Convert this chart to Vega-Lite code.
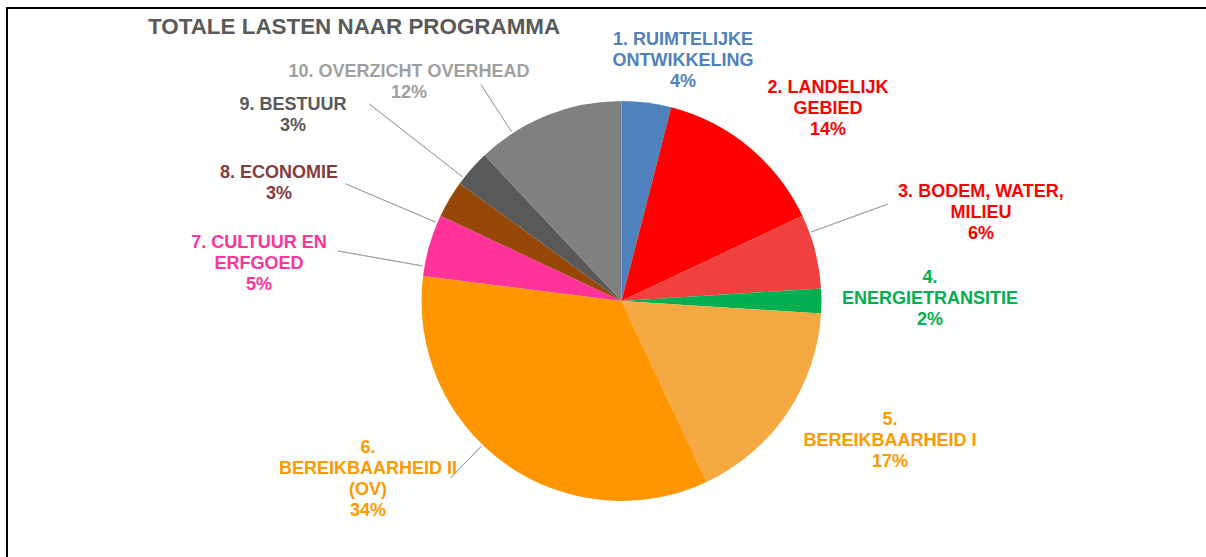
{
  "$schema": "https://vega.github.io/schema/vega-lite/v6.json",
  "width": 1229,
  "height": 586,
  "autosize": {"type": "none"},
  "padding": {"left": 7, "top": 8, "right": 0, "bottom": 0},
  "background": "white",
  "view": {"stroke": "#000000", "strokeWidth": 2, "fill": "white"},
  "config": {"view": {"stroke": "#000000", "strokeWidth": 2}},
  "title": {
    "text": "TOTALE LASTEN NAAR PROGRAMMA",
    "anchor": "start",
    "frame": "group",
    "offset": -30,
    "dx": 141,
    "font": "Liberation Sans",
    "fontSize": 22.4,
    "fontWeight": "bold",
    "color": "#595959"
  },
  "data": {
    "values": [
      {"order": 1, "prog": "1. RUIMTELIJKE ONTWIKKELING", "value": 4, "label": ["1. RUIMTELIJKE", "ONTWIKKELING", "4%"]},
      {"order": 2, "prog": "2. LANDELIJK GEBIED", "value": 14, "label": ["2. LANDELIJK", "GEBIED", "14%"]},
      {"order": 3, "prog": "3. BODEM, WATER, MILIEU", "value": 6, "label": ["3. BODEM, WATER,", "MILIEU", "6%"]},
      {"order": 4, "prog": "4. ENERGIETRANSITIE", "value": 2, "label": ["4.", "ENERGIETRANSITIE", "2%"]},
      {"order": 5, "prog": "5. BEREIKBAARHEID I", "value": 17, "label": ["5.", "BEREIKBAARHEID I", "17%"]},
      {"order": 6, "prog": "6. BEREIKBAARHEID II (OV)", "value": 34, "label": ["6.", "BEREIKBAARHEID II", "(OV)", "34%"]},
      {"order": 7, "prog": "7. CULTUUR EN ERFGOED", "value": 5, "label": ["7. CULTUUR EN", "ERFGOED", "5%"]},
      {"order": 8, "prog": "8. ECONOMIE", "value": 3, "label": ["8. ECONOMIE", "3%"]},
      {"order": 9, "prog": "9. BESTUUR", "value": 3, "label": ["9. BESTUUR", "3%"]},
      {"order": 10, "prog": "10. OVERZICHT OVERHEAD", "value": 12, "label": ["10. OVERZICHT OVERHEAD", "12%"]}
    ]
  },
  "transform": [
    {"stack": "value", "groupby": [], "sort": [{"field": "order", "order": "ascending"}], "as": ["v0", "v1"]}
  ],
  "layer": [
    {
      "mark": {"type": "arc", "radius": 200},
      "encoding": {
        "theta": {"field": "v0", "type": "quantitative", "scale": {"domain": [0, 100]}},
        "theta2": {"field": "v1"},
        "color": {
          "field": "prog", "type": "nominal", "legend": null,
          "scale": {
            "domain": ["1. RUIMTELIJKE ONTWIKKELING", "2. LANDELIJK GEBIED", "3. BODEM, WATER, MILIEU", "4. ENERGIETRANSITIE", "5. BEREIKBAARHEID I", "6. BEREIKBAARHEID II (OV)", "7. CULTUUR EN ERFGOED", "8. ECONOMIE", "9. BESTUUR", "10. OVERZICHT OVERHEAD"],
            "range": ["#4F81BD", "#FF0000", "#F04040", "#00B050", "#F4A942", "#FF9600", "#FF3399", "#974806", "#595959", "#808080"]
          }
        }
      }
    },
    {
      "transform": [{"filter": {"field": "order", "equal": 3}}],
      "mark": {"type": "arc", "radius": 283, "radius2": 202, "thetaOffset": 0.090757, "theta2Offset": -0.286234, "filled": false, "stroke": "#A6A6A6", "strokeWidth": 1},
      "encoding": {"theta": {"field": "v0", "type": "quantitative", "scale": {"domain": [0, 100]}}, "theta2": {"field": "v1"}}
    },
    {
      "transform": [{"filter": {"field": "order", "equal": 6}}],
      "mark": {"type": "arc", "radius": 246, "radius2": 202, "thetaOffset": 1.207768, "theta2Offset": -0.928515, "filled": false, "stroke": "#A6A6A6", "strokeWidth": 1},
      "encoding": {"theta": {"field": "v0", "type": "quantitative", "scale": {"domain": [0, 100]}}, "theta2": {"field": "v1"}}
    },
    {
      "transform": [{"filter": {"field": "order", "equal": 7}}],
      "mark": {"type": "arc", "radius": 288, "radius2": 202, "thetaOffset": 0.048869, "theta2Offset": -0.26529, "filled": false, "stroke": "#A6A6A6", "strokeWidth": 1},
      "encoding": {"theta": {"field": "v0", "type": "quantitative", "scale": {"domain": [0, 100]}}, "theta2": {"field": "v1"}}
    },
    {
      "transform": [{"filter": {"field": "order", "equal": 8}}],
      "mark": {"type": "arc", "radius": 300, "radius2": 202, "thetaOffset": -0.038397, "theta2Offset": -0.226893, "filled": false, "stroke": "#A6A6A6", "strokeWidth": 1},
      "encoding": {"theta": {"field": "v0", "type": "quantitative", "scale": {"domain": [0, 100]}}, "theta2": {"field": "v1"}}
    },
    {
      "transform": [{"filter": {"field": "order", "equal": 9}}],
      "mark": {"type": "arc", "radius": 320, "radius2": 202, "thetaOffset": 0.034906, "theta2Offset": -0.153589, "filled": false, "stroke": "#A6A6A6", "strokeWidth": 1},
      "encoding": {"theta": {"field": "v0", "type": "quantitative", "scale": {"domain": [0, 100]}}, "theta2": {"field": "v1"}}
    },
    {
      "transform": [{"filter": {"field": "order", "equal": 10}}],
      "mark": {"type": "arc", "radius": 258, "radius2": 202, "thetaOffset": 0.178024, "theta2Offset": -0.575958, "filled": false, "stroke": "#A6A6A6", "strokeWidth": 1},
      "encoding": {"theta": {"field": "v0", "type": "quantitative", "scale": {"domain": [0, 100]}}, "theta2": {"field": "v1"}}
    },
    {
      "transform": [{"filter": {"field": "order", "equal": 1}}],
      "mark": {"type": "text", "radius": 268.1, "thetaOffset": 0.2314, "font": "Liberation Sans", "fontSize": 18, "fontWeight": "bold", "lineHeight": 21, "align": "center", "baseline": "middle", "color": "#4F81BD"},
      "encoding": {"theta": {"field": "v0", "type": "quantitative", "scale": {"domain": [0, 100]}}, "text": {"field": "label"}}
    },
    {
      "transform": [{"filter": {"field": "order", "equal": 2}}],
      "mark": {"type": "text", "radius": 296.7, "thetaOffset": 0.5186, "font": "Liberation Sans", "fontSize": 18, "fontWeight": "bold", "lineHeight": 21, "align": "center", "baseline": "middle", "color": "#FF0000"},
      "encoding": {"theta": {"field": "v0", "type": "quantitative", "scale": {"domain": [0, 100]}}, "text": {"field": "label"}}
    },
    {
      "transform": [{"filter": {"field": "order", "equal": 3}}],
      "mark": {"type": "text", "radius": 375.7, "thetaOffset": 0.1447, "font": "Liberation Sans", "fontSize": 18, "fontWeight": "bold", "lineHeight": 21, "align": "center", "baseline": "middle", "color": "#FF0000"},
      "encoding": {"theta": {"field": "v0", "type": "quantitative", "scale": {"domain": [0, 100]}}, "text": {"field": "label"}}
    },
    {
      "transform": [{"filter": {"field": "order", "equal": 4}}],
      "mark": {"type": "text", "radius": 309.3, "thetaOffset": -0.0107, "font": "Liberation Sans", "fontSize": 18, "fontWeight": "bold", "lineHeight": 21, "align": "center", "baseline": "middle", "color": "#00B050"},
      "encoding": {"theta": {"field": "v0", "type": "quantitative", "scale": {"domain": [0, 100]}}, "text": {"field": "label"}}
    },
    {
      "transform": [{"filter": {"field": "order", "equal": 5}}],
      "mark": {"type": "text", "radius": 293.7, "thetaOffset": 0.3543, "font": "Liberation Sans", "fontSize": 18, "fontWeight": "bold", "lineHeight": 21, "align": "center", "baseline": "middle", "color": "#FF9900"},
      "encoding": {"theta": {"field": "v0", "type": "quantitative", "scale": {"domain": [0, 100]}}, "text": {"field": "label"}}
    },
    {
      "transform": [{"filter": {"field": "order", "equal": 6}}],
      "mark": {"type": "text", "radius": 293.2, "thetaOffset": 1.4842, "font": "Liberation Sans", "fontSize": 18, "fontWeight": "bold", "lineHeight": 21, "align": "center", "baseline": "middle", "color": "#FF9900"},
      "encoding": {"theta": {"field": "v0", "type": "quantitative", "scale": {"domain": [0, 100]}}, "text": {"field": "label"}}
    },
    {
      "transform": [{"filter": {"field": "order", "equal": 7}}],
      "mark": {"type": "text", "radius": 367.2, "thetaOffset": 0.0338, "font": "Liberation Sans", "fontSize": 18, "fontWeight": "bold", "lineHeight": 21, "align": "center", "baseline": "middle", "color": "#FF3399"},
      "encoding": {"theta": {"field": "v0", "type": "quantitative", "scale": {"domain": [0, 100]}}, "text": {"field": "label"}}
    },
    {
      "transform": [{"filter": {"field": "order", "equal": 8}}],
      "mark": {"type": "text", "radius": 365.5, "thetaOffset": -0.0829, "font": "Liberation Sans", "fontSize": 18, "fontWeight": "bold", "lineHeight": 21, "align": "center", "baseline": "middle", "color": "#843C3C"},
      "encoding": {"theta": {"field": "v0", "type": "quantitative", "scale": {"domain": [0, 100]}}, "text": {"field": "label"}}
    },
    {
      "transform": [{"filter": {"field": "order", "equal": 9}}],
      "mark": {"type": "text", "radius": 382.5, "thetaOffset": -0.0904, "font": "Liberation Sans", "fontSize": 18, "fontWeight": "bold", "lineHeight": 21, "align": "center", "baseline": "middle", "color": "#595959"},
      "encoding": {"theta": {"field": "v0", "type": "quantitative", "scale": {"domain": [0, 100]}}, "text": {"field": "label"}}
    },
    {
      "transform": [{"filter": {"field": "order", "equal": 10}}],
      "mark": {"type": "text", "radius": 312.2, "thetaOffset": 0.0052, "font": "Liberation Sans", "fontSize": 18, "fontWeight": "bold", "lineHeight": 21, "align": "center", "baseline": "middle", "color": "#A0A0A0"},
      "encoding": {"theta": {"field": "v0", "type": "quantitative", "scale": {"domain": [0, 100]}}, "text": {"field": "label"}}
    }
  ]
}
